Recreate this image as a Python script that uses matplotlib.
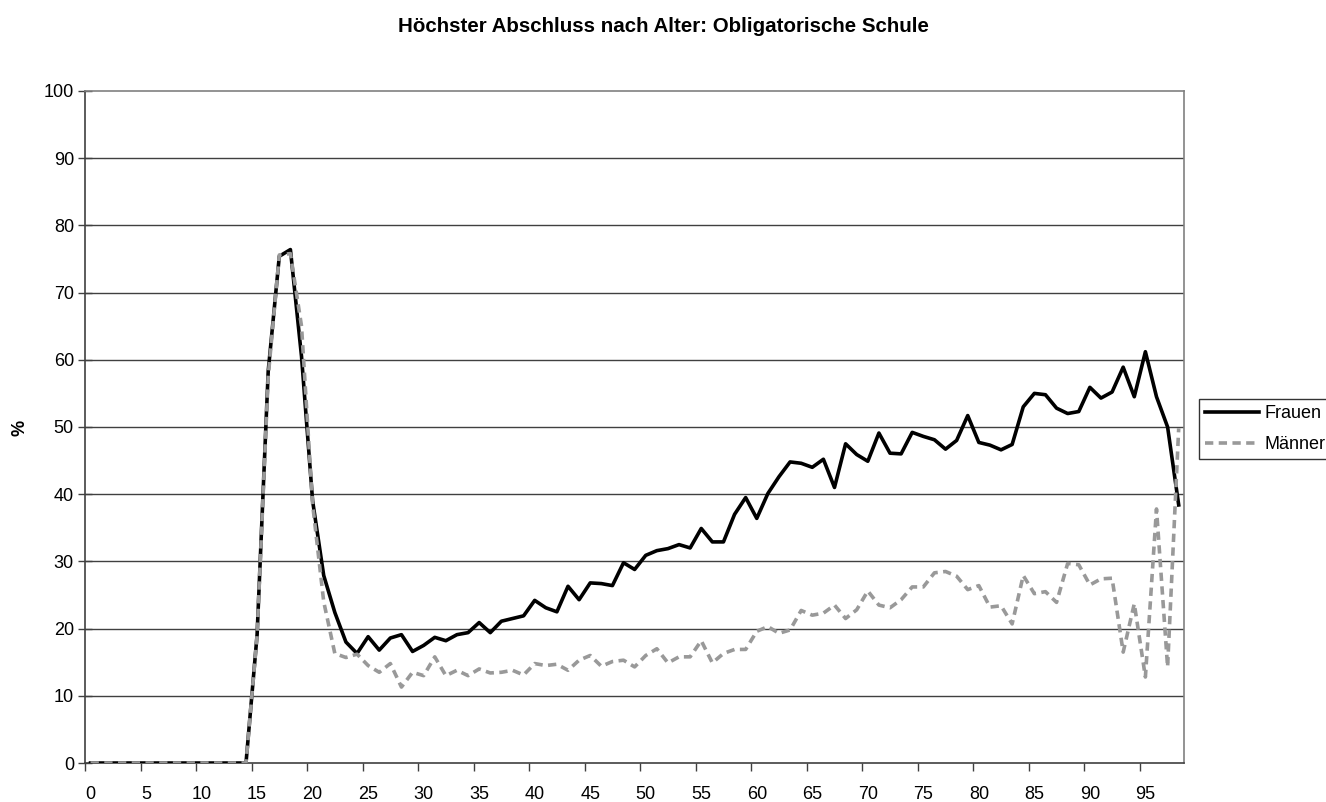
import matplotlib.pyplot as plt
import numpy as np

plt.rcParams['font.family'] = ['Liberation Sans', 'DejaVu Sans']

# Alter 0..98, Anteil in %
ages = list(range(99))
frauen = [0] * 15 + [
    19.1, 58.3, 75.4, 76.4, 60.5, 39.0, 27.9, 22.4, 18.0, 16.3,   # 15-24
    18.8, 16.8, 18.6, 19.1, 16.6, 17.5, 18.7, 18.2, 19.1, 19.4,   # 25-34
    20.9, 19.4, 21.1, 21.5, 21.9, 24.2, 23.1, 22.5, 26.3, 24.3,   # 35-44
    26.8, 26.7, 26.4, 29.8, 28.8, 30.9, 31.6, 31.9, 32.5, 32.0,   # 45-54
    34.9, 32.9, 32.9, 37.0, 39.5, 36.4, 40.1, 42.6, 44.8, 44.6,   # 55-64
    44.0, 45.2, 41.0, 47.5, 45.9, 44.9, 49.1, 46.1, 46.0, 49.2,   # 65-74
    48.6, 48.1, 46.7, 48.0, 51.7, 47.7, 47.3, 46.6, 47.4, 53.0,   # 75-84
    55.0, 54.8, 52.8, 52.0, 52.3, 55.9, 54.3, 55.2, 58.9, 54.5,   # 85-94
    61.2, 54.5, 50.0, 38.4,                                       # 95-98
]
maenner = [0] * 15 + [
    19.0, 57.5, 75.6, 75.8, 65.0, 38.5, 24.0, 16.3, 15.7, 16.2,
    14.5, 13.5, 14.8, 11.3, 13.5, 13.0, 15.8, 13.0, 13.8, 13.0,
    14.0, 13.4, 13.5, 13.8, 13.1, 14.8, 14.5, 14.7, 13.8, 15.3,
    16.0, 14.4, 15.1, 15.3, 14.3, 16.0, 17.0, 14.9, 15.8, 15.8,
    18.2, 14.9, 16.3, 16.9, 16.9, 19.6, 20.3, 19.3, 19.8, 22.7,
    22.0, 22.3, 23.5, 21.5, 22.8, 25.6, 23.5, 23.1, 24.3, 26.2,
    26.2, 28.3, 28.5, 27.8, 25.8, 26.4, 23.2, 23.4, 20.7, 27.9,
    25.2, 25.5, 23.9, 29.7, 29.5, 26.5, 27.4, 27.5, 16.5, 23.7,
    12.8, 37.8, 14.3, 49.8,
]
xlabels = [str(v) for v in range(0, 96, 5)]

fig = plt.figure(figsize=(13.26, 8.02), dpi=100)
ax = fig.add_axes([0.0641, 0.0486, 0.829, 0.838])

for y in range(10, 100, 10):
    ax.axhline(y, color='#404040', lw=1, zorder=1)

ax.plot(ages, frauen, color='black', lw=2.6, label='Frauen', zorder=3)
ax.plot(ages, maenner, color='#999999', lw=2.6, dashes=(2.3, 1.5), label='Männer', zorder=4)

ax.set_xlim(-0.5, 98.5)
ax.set_ylim(0, 100)
ax.set_xticks(np.arange(0, 96, 5))
ax.set_xticklabels(xlabels)
ax.set_xticks(np.arange(-0.5, 98, 5), minor=True)
ax.tick_params(axis='x', which='major', length=0, pad=16.5, labelsize=13)
ax.tick_params(axis='x', which='minor', length=6, width=1, color='#404040', direction='out')
ax.set_yticks(range(0, 101, 10))
ax.tick_params(axis='y', length=10, width=1, color='#404040', direction='inout', labelsize=13, pad=3)

for side in ['top', 'right']:
    ax.spines[side].set_color('#808080')
    ax.spines[side].set_linewidth(1.2)
for side in ['left', 'bottom']:
    ax.spines[side].set_color('#404040')
    ax.spines[side].set_linewidth(1.2)

fig.text(20 / 1326, 1 - 428 / 802, '%', rotation=90, fontweight='bold', fontsize=13,
         ha='center', va='center')
fig.text(0.5, 1 - 32 / 802, 'Höchster Abschluss nach Alter: Obligatorische Schule',
         fontweight='bold', fontsize=14.8, ha='center', va='baseline')

leg = ax.legend(loc='upper left', bbox_to_anchor=(1199 / 1326, 1 - 399 / 802),
                bbox_transform=fig.transFigure, frameon=True, fancybox=False,
                edgecolor='black', fontsize=13, handlelength=3.0,
                borderpad=0.35, labelspacing=0.75, handletextpad=0.25,
                borderaxespad=0)
leg.get_frame().set_linewidth(1)

fig.savefig('out.png', dpi=100)
